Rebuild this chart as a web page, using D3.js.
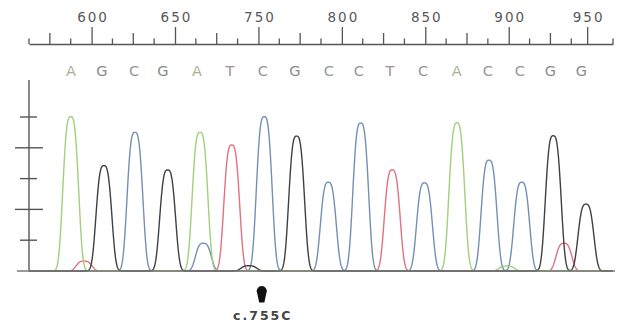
<!DOCTYPE html>
<html>
<head>
<meta charset="utf-8">
<script src="https://cdn.jsdelivr.net/npm/d3@7"></script>
<style>
  html, body { margin: 0; padding: 0; background: #fff; }
  svg { display: block; }
</style>
</head>
<body>
<div id="chromatogram"></div>
<script>
// ruler (scan position) ticks
const majorTicks = [600, 650, 700, 750, 800, 850, 897];
const majorLabels = ['600', '650', '750', '800', '850', '900', '950'];

// base calls printed under the ruler
const callBases = ['A', 'G', 'C', 'G', 'A', 'T', 'C', 'G', 'C', 'C', 'T', 'C', 'A', 'C', 'C', 'G', 'G'];
const callPos = [587.7, 606.2, 625.4, 642.8, 663.2, 682.9, 702.7, 721.9, 742.2, 760.2, 778.8, 798.6, 818.9, 837.5, 856.7, 874.9, 893.5];

// trace peaks: base channel, scan position, signal height
const peakBase = ['A', 'T', 'G', 'C', 'G', 'A', 'C', 'T', 'G', 'C', 'G', 'C',
  'C', 'T', 'C', 'A', 'A', 'C', 'A', 'C', 'G', 'T', 'G'];
const peakPos = [587.5, 595.5, 607.4, 626.0, 645.6, 665.0, 667.0, 684.0, 694.3, 703.5, 722.9, 741.9,
  761.3, 780.2, 799.5, 818.8, 820.2, 838.2, 848.8, 857.8, 876.7, 883.1, 896.3];
const peakHeight = [5.01, 0.32, 3.42, 4.50, 3.28, 4.50, 0.90, 4.09, 0.17, 5.01, 4.38, 2.88,
  4.80, 3.28, 2.86, 4.36, 0.46, 3.60, 0.16, 2.88, 4.39, 0.90, 2.17];

// left axis ticks
const yTicks = [1, 2, 3, 4, 5];

// annotated variant
const mutationPos = 702;
const mutationLabel = 'c.755C';

const width = 618;
const height = 323;

const channelColor = { A: '#a2d07c', C: '#7490b4', G: '#404040', T: '#e0737f' };
const letterColor = { A: '#a6b296', C: '#8f97a4', G: '#8a8a8a', T: '#a09090' };

const svg = d3
  .select('#chromatogram')
  .append('svg')
  .attr('width', width)
  .attr('height', height);

const x = d3.scaleLinear().domain([562.5, 912.5]).range([29, 613]);
const y = d3.scaleLinear().domain([0, 5]).range([271, 117]);

// top ruler
const ruler = svg
  .append('g')
  .attr('transform', 'translate(0,44)')
  .call(
    d3
      .axisTop(x)
      .tickValues(majorTicks)
      .tickFormat((d, i) => majorLabels[i])
      .tickSize(17)
      .tickSizeOuter(0)
      .tickPadding(5)
  );
ruler.select('.domain').attr('stroke', '#555').attr('stroke-width', 1.3);
ruler.selectAll('.tick line').attr('stroke', '#555').attr('stroke-width', 1.3);
ruler
  .selectAll('.tick text')
  .attr('fill', '#585858')
  .attr('dx', 1)
  .style('font-family', 'DejaVu Sans')
  .style('font-size', '13.5px')
  .style('letter-spacing', '2px');

const minor = d3
  .range(562.5, 913, 12.5)
  .filter((v) => !majorTicks.some((m) => Math.abs(m - v) < 4));
svg
  .append('g')
  .attr('stroke', '#555')
  .attr('stroke-width', 1.3)
  .selectAll('line')
  .data(minor)
  .join('line')
  .attr('x1', (d) => x(d))
  .attr('x2', (d) => x(d))
  .attr('y1', 44)
  .attr('y2', (d) => (d % 25 === 0 ? 33 : 38.5));

// base calls
svg
  .append('g')
  .selectAll('text')
  .data(callBases)
  .join('text')
  .attr('x', (d, i) => x(callPos[i]))
  .attr('y', 76)
  .attr('text-anchor', 'middle')
  .attr('fill', (d) => letterColor[d])
  .style('font-family', 'DejaVu Sans')
  .style('font-size', '14.5px')
  .text((d) => d);

// left axis
svg
  .append('line')
  .attr('x1', 29)
  .attr('x2', 29)
  .attr('y1', 80)
  .attr('y2', y(0))
  .attr('stroke', '#555')
  .attr('stroke-width', 1.4);
svg
  .append('g')
  .attr('stroke', '#555')
  .attr('stroke-width', 1.4)
  .selectAll('line')
  .data(yTicks)
  .join('line')
  .attr('x1', (d) => (d % 2 === 0 ? 15 : 20))
  .attr('x2', (d) => (d % 2 === 0 ? 43 : 37))
  .attr('y1', (d) => y(d))
  .attr('y2', (d) => y(d));

// traces: each channel is the sum of its peaks
const sigma = 5.5;
const power = 3.1;
const samples = d3.range(562.5, 912.5, 0.2);
const line = d3
  .line()
  .x((d) => x(d[0]))
  .y((d) => y(d[1]));

['C', 'T', 'A', 'G'].forEach((base) => {
  const idx = peakBase.map((b, i) => (b === base ? i : -1)).filter((i) => i >= 0);
  const pts = samples.map((s) => {
    let v = 0;
    idx.forEach((i) => {
      v += peakHeight[i] * Math.exp(-Math.pow(Math.abs(s - peakPos[i]) / sigma, power));
    });
    return [s, v];
  });
  svg
    .append('path')
    .datum(pts)
    .attr('fill', 'none')
    .attr('stroke', channelColor[base])
    .attr('stroke-width', 1.4)
    .attr('stroke-linejoin', 'round')
    .attr('d', line);
});

// baseline
svg
  .append('line')
  .attr('x1', 17)
  .attr('x2', 615)
  .attr('y1', y(0))
  .attr('y2', y(0))
  .attr('stroke', '#7a7a7a')
  .attr('stroke-width', 1.6);

// variant marker
const mx = x(mutationPos);
svg
  .append('path')
  .attr('fill', '#111')
  .attr(
    'd',
    `M${mx - 4.6},293 A5 5 0 1 1 ${mx + 4.6},293 L${mx + 2.6},302.5 L${mx - 2.6},302.5 Z`
  );
svg
  .append('text')
  .attr('x', mx + 1)
  .attr('y', 320)
  .attr('text-anchor', 'middle')
  .attr('fill', '#444')
  .style('font-family', 'DejaVu Sans')
  .style('font-weight', 'bold')
  .style('font-size', '12.5px')
  .style('letter-spacing', '2px')
  .text(mutationLabel);
</script>
</body>
</html>
